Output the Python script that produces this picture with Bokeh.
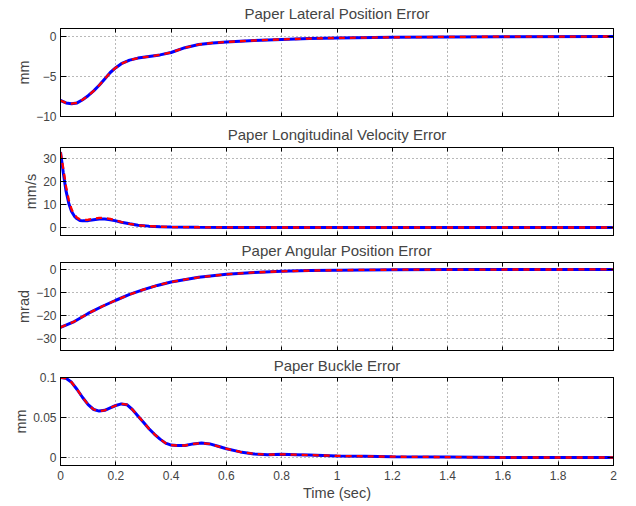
from bokeh.plotting import figure
from bokeh.layouts import column
from bokeh.models import FixedTicker, Range1d, LinearAxis, CustomLabelingPolicy
from bokeh.embed import file_html
from bokeh.resources import INLINE

# ---------------- data ----------------
x_ticks = [0, 0.2, 0.4, 0.6, 0.8, 1.0, 1.2, 1.4, 1.6, 1.8, 2.0]
x_labels = ["0", "0.2", "0.4", "0.6", "0.8", "1", "1.2", "1.4", "1.6", "1.8", "2"]

titles = ["Paper Lateral Position Error", "Paper Longitudinal Velocity Error",
          "Paper Angular Position Error", "Paper Buckle Error"]
y_units = ["mm", "mm/s", "mrad", "mm"]

t_lat = [0, 0.02, 0.04, 0.06, 0.08, 0.1, 0.12, 0.14, 0.16, 0.18, 0.2, 0.22, 0.25, 0.28,
         0.32, 0.36, 0.4, 0.45, 0.5, 0.55, 0.6, 0.7, 0.8, 0.9, 1.0, 1.2, 1.4, 1.6, 2.0]
lat_meas = [-8.0, -8.3, -8.4, -8.3, -7.9, -7.4, -6.8, -6.1, -5.3, -4.5, -3.9, -3.4, -2.95, -2.7,
            -2.5, -2.3, -2.0, -1.4, -1.0, -0.8, -0.68, -0.5, -0.36, -0.26, -0.18, -0.1, -0.05, -0.02, 0.0]
lat_model = [-8.0, -8.3, -8.4, -8.3, -7.9, -7.4, -6.8, -6.1, -5.3, -4.5, -3.9, -3.4, -2.95, -2.7,
             -2.5, -2.3, -2.0, -1.4, -1.0, -0.8, -0.68, -0.5, -0.36, -0.26, -0.18, -0.1, -0.05, -0.02, 0.0]

t_vel = [0, 0.01, 0.02, 0.03, 0.04, 0.05, 0.06, 0.07, 0.08, 0.1, 0.12, 0.14, 0.16, 0.18, 0.2,
         0.22, 0.25, 0.28, 0.32, 0.36, 0.4, 0.5, 0.6, 0.8, 1.0, 1.5, 2.0]
vel_meas = [33, 24, 16, 10.5, 7, 5, 3.8, 3.1, 2.9, 3.0, 3.4, 3.7, 3.7, 3.4, 2.9,
            2.3, 1.6, 1.0, 0.6, 0.35, 0.2, 0.1, 0.05, 0.0, 0.0, 0.0, 0.0]
vel_model = [33, 26, 18, 12, 8, 5.6, 4.3, 3.6, 3.3, 3.4, 3.8, 4.2, 4.2, 3.8, 3.1,
             2.4, 1.6, 1.0, 0.6, 0.35, 0.2, 0.1, 0.05, 0.0, 0.0, 0.0, 0.0]

t_ang = [0, 0.05, 0.1, 0.15, 0.2, 0.25, 0.3, 0.35, 0.4, 0.5, 0.6, 0.7, 0.8, 0.9, 1.0, 1.2, 1.4, 2.0]
ang_meas = [-25, -22.5, -19, -16, -13.3, -10.8, -8.7, -6.9, -5.4, -3.4, -2.1, -1.3, -0.8, -0.5,
            -0.3, -0.1, -0.05, 0.0]
ang_model = [-25, -22.5, -19, -16, -13.3, -10.8, -8.7, -6.9, -5.4, -3.4, -2.1, -1.3, -0.8, -0.5,
             -0.3, -0.1, -0.05, 0.0]

t_buc = [0, 0.02, 0.04, 0.06, 0.08, 0.1, 0.12, 0.14, 0.16, 0.18, 0.2, 0.22, 0.24, 0.26, 0.28,
         0.3, 0.32, 0.34, 0.36, 0.38, 0.4, 0.42, 0.45, 0.48, 0.51, 0.54, 0.57, 0.6, 0.65, 0.7,
         0.75, 0.8, 0.85, 0.9, 1.0, 1.1, 1.2, 1.4, 1.6, 2.0]
buc_meas = [0.1, 0.099, 0.094, 0.085, 0.075, 0.066, 0.060, 0.058, 0.059, 0.062, 0.065, 0.067,
            0.066, 0.060, 0.052, 0.044, 0.036, 0.029, 0.023, 0.018, 0.0155, 0.015, 0.015, 0.017,
            0.018, 0.017, 0.014, 0.011, 0.007, 0.0045, 0.0035, 0.004, 0.0035, 0.003, 0.002,
            0.0015, 0.001, 0.0005, 0.0, 0.0]
buc_model = [0.1, 0.099, 0.094, 0.085, 0.075, 0.066, 0.060, 0.058, 0.059, 0.062, 0.065, 0.067,
             0.066, 0.060, 0.052, 0.044, 0.036, 0.029, 0.023, 0.018, 0.0155, 0.015, 0.015, 0.017,
             0.018, 0.017, 0.014, 0.011, 0.007, 0.0045, 0.0035, 0.004, 0.0035, 0.003, 0.002,
             0.0015, 0.001, 0.0005, 0.0, 0.0]

y_ranges = [(-10, 1), (-3.5, 35), (-35, 3), (-0.01, 0.1)]
y_ticks = [[-10, -5, 0], [0, 10, 20, 30], [-30, -20, -10, 0], [0, 0.05, 0.1]]
y_labels = [["\u221210", "\u22125", "0"], ["0", "10", "20", "30"],
            ["\u221230", "\u221220", "\u221210", "0"], ["0", "0.05", "0.1"]]

series = [(t_lat, lat_meas, lat_model), (t_vel, vel_meas, vel_model),
          (t_ang, ang_meas, ang_model), (t_buc, buc_meas, buc_model)]

FONT = "Liberation Sans"
tops = [28, 22, 22, 22]
bottoms = [7, 4, 4, 0]
title_standoff = [5, 1, 0, 0]

NO_LABELS = "for (const i of indices) { indices.unset(i) }\nreturn indices"


def style_axis(ax, ticks, tick_len):
    ax.ticker = FixedTicker(ticks=ticks)
    ax.major_tick_in = tick_len
    ax.major_tick_out = 0
    ax.minor_tick_line_color = None
    ax.axis_line_color = "black"
    ax.major_tick_line_color = "black"


def blank_axis(ax):
    ax.major_label_policy = CustomLabelingPolicy(code=NO_LABELS)
    ax.major_label_standoff = 0
    ax.major_label_text_font_size = "1px"


def panel(i):
    last = i == 3
    p = figure(frame_width=553, frame_height=88,
               x_range=Range1d(0, 2), y_range=Range1d(*y_ranges[i]),
               output_backend="svg", toolbar_location=None,
               min_border_left=60, min_border_right=12,
               min_border_top=tops[i], min_border_bottom=bottoms[i],
               title=titles[i])
    p.title.align = "center"
    p.title.text_font = FONT
    p.title.text_font_size = "15px"
    p.title.text_font_style = "normal"
    p.title.standoff = title_standoff[i]
    p.outline_line_color = "black"
    p.outline_line_alpha = 1
    p.outline_line_width = 1
    p.background_fill_color = "white"
    p.border_fill_color = "white"

    t, meas, model = series[i]
    p.line(t, meas, line_color="blue", line_width=3)
    p.line(t, model, line_color="red", line_width=2.3, line_dash="6 5")

    xa = p.xaxis[0]
    style_axis(xa, x_ticks, 4)
    if last:
        xa.major_label_overrides = {float(k): v for k, v in zip(x_ticks, x_labels)}
        xa.major_label_text_font = FONT
        xa.major_label_text_font_size = "12px"
        xa.major_label_standoff = 5
        xa.axis_label = "Time (sec)"
        xa.axis_label_text_font = FONT
        xa.axis_label_text_font_size = "14.5px"
        xa.axis_label_text_font_style = "normal"
        xa.axis_label_standoff = 2
    else:
        blank_axis(xa)

    ya = p.yaxis[0]
    style_axis(ya, y_ticks[i], 6)
    ya.major_label_overrides = {float(k): v for k, v in zip(y_ticks[i], y_labels[i])}
    ya.major_label_text_font = FONT
    ya.major_label_text_font_size = "12px"
    ya.major_label_standoff = 4
    ya.axis_label = y_units[i]
    ya.axis_label_text_font = FONT
    ya.axis_label_text_font_size = "14.5px"
    ya.axis_label_text_font_style = "normal"
    ya.axis_label_standoff = 1

    top_ax = LinearAxis()
    style_axis(top_ax, x_ticks, 4)
    blank_axis(top_ax)
    p.add_layout(top_ax, "above")

    right_ax = LinearAxis()
    style_axis(right_ax, y_ticks[i], 6)
    blank_axis(right_ax)
    p.add_layout(right_ax, "right")

    p.grid.grid_line_color = "black"
    p.grid.grid_line_alpha = 0.55
    p.grid.grid_line_dash = "1 3"
    return p


panels = [panel(i) for i in range(4)]
layout = column(*panels, spacing=0)

open("out.html", "w").write(file_html(layout, INLINE))
